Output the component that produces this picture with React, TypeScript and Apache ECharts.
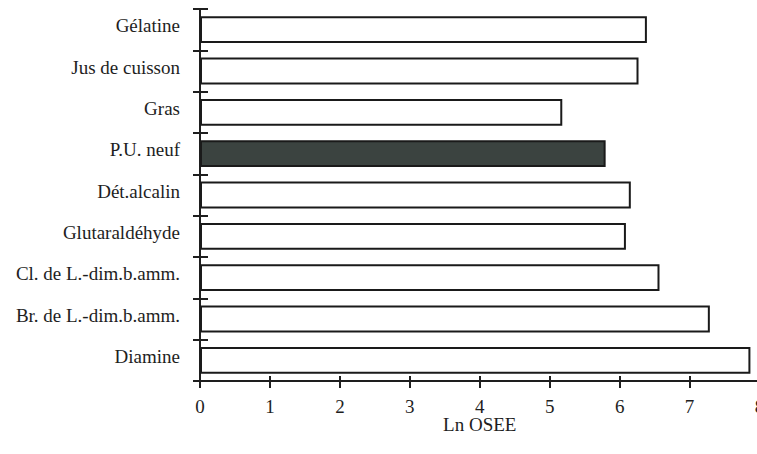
import React, { useEffect, useRef } from "react";
import * as echarts from "echarts";

const categories = [
  "Gélatine",
  "Jus de cuisson",
  "Gras",
  "P.U. neuf",
  "Dét.alcalin",
  "Glutaraldéhyde",
  "Cl. de L.-dim.b.amm.",
  "Br. de L.-dim.b.amm.",
  "Diamine",
];
const lnOsee = [6.39, 6.27, 5.18, 5.8, 6.16, 6.09, 6.57, 7.29, 7.87];
const highlighted = ["P.U. neuf"];
const xTicks = [0, 1, 2, 3, 4, 5, 6, 7, 8];
const axisTitle = "Ln OSEE";

const FONT = "'Liberation Serif', 'DejaVu Serif', serif";
const INK = "#1e1e1e";

export default function App() {
  const ref = useRef<HTMLDivElement>(null);
  useEffect(() => {
    if (!ref.current) return;
    const chart = echarts.init(ref.current, undefined, { renderer: "svg" });
    const xMin = xTicks[0];
    const xMax = xTicks[xTicks.length - 1];
    chart.setOption({
      animation: false,
      backgroundColor: "#ffffff",
      grid: {
        left: 200,
        right: -2.5,
        top: 9,
        bottom: 73,
        containLabel: false,
        outerBoundsMode: "none",
      },
      xAxis: [
        {
          type: "value",
          min: xMin,
          max: xMax,
          interval: 1,
          position: "bottom",
          name: axisTitle,
          nameLocation: "middle",
          nameGap: 34,
          nameMoveOverlap: false,
          nameTextStyle: { fontFamily: FONT, fontSize: 19, color: INK },
          axisLine: { show: true, lineStyle: { color: INK, width: 2 } },
          axisTick: { show: true, inside: false, length: 7, lineStyle: { color: INK, width: 2 } },
          axisLabel: {
            show: true,
            margin: 16,
            fontFamily: FONT,
            fontSize: 19,
            color: INK,
            showMaxLabel: true,
          },
          splitLine: { show: false },
        },
        {
          type: "value",
          min: xMin,
          max: xMax,
          interval: 1,
          position: "bottom",
          axisLine: { show: false },
          axisTick: { show: true, inside: true, length: 5, lineStyle: { color: INK, width: 2 } },
          axisLabel: { show: false },
          splitLine: { show: false },
        },
      ],
      yAxis: [
        {
          type: "category",
          data: categories,
          inverse: true,
          position: "left",
          axisLine: { show: true, lineStyle: { color: INK, width: 2 } },
          axisTick: { show: true, inside: false, length: 7, lineStyle: { color: INK, width: 2 } },
          axisLabel: {
            margin: 20,
            formatter: (v: string) => `{a|${v}}`,
            rich: {
              a: {
                fontFamily: FONT,
                fontSize: 19,
                color: INK,
                padding: [0, 0, 8, 0],
              },
            },
          },
          splitLine: { show: false },
        },
        {
          type: "category",
          data: categories,
          inverse: true,
          position: "left",
          axisLine: { show: false },
          axisTick: { show: true, inside: true, length: 8, lineStyle: { color: INK, width: 2 } },
          axisLabel: { show: false },
          splitLine: { show: false },
        },
      ],
      series: [
        {
          type: "bar",
          xAxisIndex: 0,
          yAxisIndex: 0,
          barWidth: "65%",
          data: lnOsee.map((v, i) => ({
            value: v,
            itemStyle: highlighted.includes(categories[i])
              ? { color: "#3b4340", borderColor: "#1a1a1a", borderWidth: 2 }
              : { color: "#ffffff", borderColor: "#1a1a1a", borderWidth: 2 },
          })),
        },
      ],
    });
    return () => chart.dispose();
  }, []);
  return (
    <div
      ref={ref}
      style={{ position: "fixed", left: 0, top: 0, width: 757, height: 454, background: "#fff" }}
    />
  );
}
